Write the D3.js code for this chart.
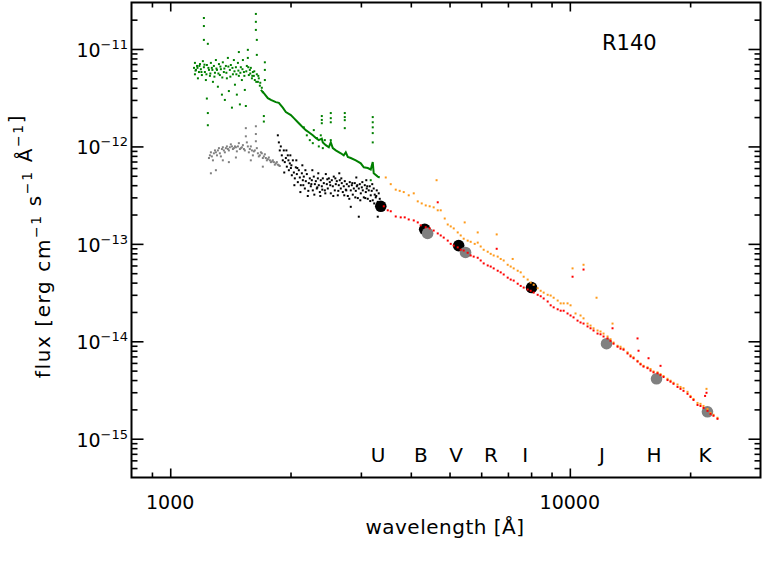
<!DOCTYPE html>
<html>
<head>
<meta charset="utf-8">
<script src="https://cdn.jsdelivr.net/npm/d3@7"></script>
<style>
  body { margin: 0; background: #fff; }
  svg { display: block; font-family: "DejaVu Sans", sans-serif; }
</style>
</head>
<body>
<script>
// axis ranges
const xDomain = [800, 30000];
const yDomain = [4e-16, 3e-11];
const xTickLabels = [1000, 10000];
const yTickExps = [-15, -14, -13, -12, -11];

// photometric bands
const bandNames = ["U", "B", "V", "R", "I", "J", "H", "K"];
const bandWaves = [3310, 4240, 5190, 6350, 7730, 12040, 16250, 21800];

// far-UV spectrum (green), noisy part
const greenFUV = [
  [1147,6.4e-12],[1153,7.2e-12],[1153,5.5e-12],[1160,6.1e-12],[1167,6.7e-12],[1173,5.0e-12],[1180,5.8e-12],
  [1187,7.0e-12],[1193,6.2e-12],[1200,5.4e-12],[1207,7.5e-12],[1214,6.5e-12],[1214,2.08e-11],[1214,1.72e-11],
  [1214,1.24e-11],[1221,5.8e-12],[1228,4.8e-12],[1235,6.85e-12],[1235,3.1e-12],[1242,1.13e-11],[1242,2.2e-12],
  [1242,1.65e-12],[1250,6.1e-12],[1257,5.3e-12],[1264,7.2e-12],[1271,6.4e-12],[1279,4.6e-12],[1286,6.7e-12],
  [1294,5.7e-12],[1301,7.7e-12],[1309,6.1e-12],[1316,4.1e-12],[1324,7.0e-12],[1331,5.4e-12],[1339,6.2e-12],
  [1347,3.4e-12],[1354,7.3e-12],[1362,5.8e-12],[1370,3.0e-12],[1378,6.7e-12],[1386,5.0e-12],[1394,8.1e-12],
  [1402,3.7e-12],[1410,6.1e-12],[1418,6.85e-12],[1427,2.5e-12],[1435,5.5e-12],[1443,7.7e-12],[1452,4.3e-12],
  [1460,6.5e-12],[1468,3.4e-12],[1477,7.2e-12],[1485,9.3e-12],[1485,5.3e-12],[1494,2.7e-12],[1502,6.5e-12],
  [1511,4.8e-12],[1520,7.7e-12],[1529,5.8e-12],[1537,3.8e-12],[1546,2.6e-12],[1555,6.7e-12],[1564,9.8e-12],
  [1564,8.1e-12],[1573,5.4e-12],[1582,6.1e-12],[1591,6.4e-12],[1601,5.0e-12],[1610,5.8e-12],[1619,5.3e-12],
  [1628,4.8e-12],[1638,2.29e-11],[1638,1.9e-11],[1638,1.57e-11],[1647,1.24e-11],[1647,8.7e-12],[1647,5.5e-12],
  [1657,4.6e-12],[1666,5.0e-12],[1676,4.2e-12],[1715,2.05e-12],[1715,1.8e-12],[1725,7.3e-12],[1725,6.1e-12],
  [1725,4.8e-12],[1705,3.6e-12],
  [1157,6.0e-12],[1170,6.4e-12],[1183,6.7e-12],[1197,5.8e-12],[1218,6.9e-12],[1232,5.5e-12],[1246,6.4e-12],
  [1260,5.6e-12],[1275,6.1e-12],[1290,5.2e-12],[1305,6.3e-12],[1320,5.6e-12],[1335,6.6e-12],[1350,5.1e-12],
  [1366,6.3e-12],[1382,5.7e-12],[1398,6.6e-12],[1414,5.2e-12],[1431,6.4e-12],[1448,5.9e-12],[1464,5.5e-12],
  [1481,6.0e-12],[1498,5.7e-12],[1516,6.2e-12],[1533,5.3e-12],[1550,5.9e-12],[1568,6.5e-12],[1586,5.6e-12],
  [1605,5.3e-12],[1623,5.9e-12],[1642,4.6e-12],[1661,5.3e-12],[1680,4.5e-12],[1695,4.0e-12]
];

// near-UV spectrum (green), continuum
const greenNUV = [
  [1686,3.8e-12],[1715,3.52e-12],[1755,3.13e-12],[1786,3.0e-12],[1838,2.85e-12],[1870,2.8e-12],[1913,2.5e-12],
  [1947,2.25e-12],[2004,2.1e-12],[2039,1.95e-12],[2086,1.77e-12],[2122,1.65e-12],[2147,1.57e-12],[2184,1.47e-12],
  [2222,1.4e-12],[2274,1.3e-12],[2314,1.22e-12],[2354,1.16e-12],[2395,1.2e-12],[2409,1.1e-12],[2451,1.03e-12],
  [2494,9.8e-13],[2522,1.1e-12],[2552,9.6e-13],[2596,9.1e-13],[2672,8.5e-13],[2718,8.1e-13],[2750,8.7e-13],
  [2782,7.8e-13],[2830,7.6e-13],[2913,7.2e-13],[2964,6.9e-13],[2998,6.7e-13],[3051,6.1e-13],[3121,6.0e-13],
  [3175,5.8e-13],[3212,6.9e-13],[3230,5.3e-13],[3306,4.9e-13],[3344,4.8e-13]
];

// near-UV emission spikes and scatter (green)
const greenSpikes = [
  [2395,2.05e-12],[2395,1.87e-12],[2395,1.73e-12],[2522,2.2e-12],[2522,1.95e-12],[2522,1.77e-12],[2522,1.16e-12],
  [2734,2.2e-12],[2734,2.0e-12],[2734,1.86e-12],[2734,1.54e-12],[3212,2.0e-12],[3212,1.77e-12],[3212,1.57e-12],
  [3212,1.37e-12],[3212,1.1e-12],[2159,1.57e-12],[2197,1.3e-12],[2235,1.16e-12],[2274,1.08e-12],[2327,1.22e-12],
  [2354,1.0e-12],[2409,9.6e-13],[2437,1.16e-12],[2287,1.47e-12],[2381,1.3e-12],[3175,4.5e-13]
];

// far-UV spectrum (gray)
const grayFUV = [
  [1250,7.6e-13],[1264,8.7e-13],[1279,7.2e-13],[1294,9.1e-13],[1309,8.1e-13],[1324,9.6e-13],[1339,7.9e-13],
  [1354,9.8e-13],[1370,8.7e-13],[1386,1.0e-12],[1402,9.1e-13],[1418,1.05e-12],[1435,9.4e-13],[1452,1.0e-12],
  [1468,8.9e-13],[1485,1.08e-12],[1502,9.6e-13],[1520,1.03e-12],[1537,9.1e-13],[1546,1.54e-12],[1546,1.27e-12],
  [1555,1.1e-12],[1573,8.7e-13],[1591,1.0e-12],[1610,8.1e-13],[1628,9.1e-13],[1638,1.61e-12],[1638,1.34e-12],
  [1638,1.13e-12],[1647,9.6e-13],[1666,7.9e-13],[1686,8.7e-13],[1705,7.6e-13],[1725,8.3e-13],[1745,7.2e-13],
  [1765,7.7e-13],[1786,6.9e-13],[1806,7.2e-13],[1827,6.5e-13],[1848,6.9e-13],[1870,6.4e-13],
  [1264,5.3e-13],[1301,5.7e-13],[1354,7.2e-13],[1402,6.9e-13],[1460,7.7e-13],[1705,6.2e-13],[1591,7.2e-13],
  [1257,8.1e-13],[1271,7.9e-13],[1286,8.5e-13],[1301,8.7e-13],[1316,9.1e-13],[1331,8.5e-13],[1347,9.4e-13],
  [1362,9.1e-13],[1378,9.6e-13],[1394,9.4e-13],[1410,9.8e-13],[1427,1.0e-12],[1443,9.6e-13],[1460,9.8e-13],
  [1477,1.0e-12],[1494,9.4e-13],[1511,9.8e-13],[1529,9.4e-13],[1564,1.0e-12],[1582,9.4e-13],[1601,9.1e-13],
  [1619,8.9e-13],[1657,8.5e-13],[1676,8.1e-13],[1695,8.5e-13],[1715,7.9e-13],[1735,7.6e-13],[1755,7.4e-13],
  [1776,7.2e-13],[1796,7.0e-13],[1817,6.9e-13],[1838,6.7e-13],[1859,6.5e-13],[1880,6.3e-13]
];

// near-UV spectrum (black)
const blackNUV = [
  [1859,1.3e-12],[1870,1.1e-12],[1880,9.1e-13],[1891,1.0e-12],[1902,8.1e-13],[1913,7.2e-13],[1924,9.1e-13],
  [1935,6.9e-13],[1947,7.6e-13],[1958,6.2e-13],[1969,8.1e-13],[1981,5.7e-13],[1992,6.7e-13],[2004,6.0e-13],
  [2015,5.06e-13],[2027,7.2e-13],[2039,5.4e-13],[2050,4.7e-13],[2062,6.1e-13],[2074,5.2e-13],[2086,4.3e-13],
  [2098,5.7e-13],[2110,4.8e-13],[2122,4.0e-13],[2135,5.3e-13],[2147,4.5e-13],[2159,4.9e-13],[2172,3.7e-13],
  [2184,4.4e-13],[2197,5.2e-13],[2209,3.1e-13],[2222,4.2e-13],[2235,4.7e-13],[2248,3.9e-13],[2261,4.5e-13],
  [2274,3.54e-13],[2287,4.9e-13],[2301,4.1e-13],[2314,4.4e-13],[2327,3.7e-13],[2341,4.7e-13],[2354,4.0e-13],
  [2368,3.4e-13],[2381,4.5e-13],[2395,3.9e-13],[2409,4.7e-13],[2423,4.2e-13],[2437,3.54e-13],[2451,5.2e-13],
  [2465,4.1e-13],[2479,3.7e-13],[2494,4.7e-13],[2508,4.3e-13],[2522,3.3e-13],[2537,4.5e-13],[2552,3.9e-13],
  [2566,4.9e-13],[2581,3.54e-13],[2596,4.1e-13],[2611,4.4e-13],[2626,3.15e-13],[2641,4.0e-13],[2656,4.5e-13],
  [2672,3.7e-13],[2687,4.2e-13],[2703,3.4e-13],[2718,3.9e-13],[2734,4.4e-13],[2750,3.6e-13],[2766,4.1e-13],
  [2782,3.1e-13],[2798,3.9e-13],[2814,4.3e-13],[2830,3.54e-13],[2830,2.4e-13],[2847,4.0e-13],[2863,3.2e-13],
  [2880,3.7e-13],[2896,4.2e-13],[2913,3.5e-13],[2930,3.9e-13],[2947,2.95e-13],[2964,3.7e-13],[2964,1.9e-13],
  [2981,4.1e-13],[2998,3.3e-13],[3016,3.8e-13],[3033,3.54e-13],[3051,3.0e-13],[3068,4.0e-13],[3086,3.4e-13],
  [3103,3.7e-13],[3121,2.9e-13],[3139,3.54e-13],[3157,3.9e-13],[3175,3.15e-13],[3193,3.5e-13],[3212,2.8e-13],
  [3230,3.7e-13],[3249,3.2e-13],[3268,3.0e-13],[3287,3.54e-13],[3306,1.9e-13],[3306,2.7e-13],[3325,3.3e-13],
  [3344,2.9e-13],
  [1929,5.4e-13],[1953,9.1e-13],[1976,7.2e-13],[2010,6.4e-13],[2045,4.0e-13],[2080,6.0e-13],[2117,3.4e-13],
  [2153,4.0e-13],[2179,5.7e-13],[2216,3.5e-13],[2255,4.1e-13],[2294,3.2e-13],[2334,3.8e-13],[2375,3.1e-13],
  [2402,3.6e-13],[2444,3.3e-13],[2472,4.6e-13],[2515,4.0e-13],[2559,3.1e-13],[2589,4.7e-13],[2634,3.5e-13],
  [2680,4.7e-13],[2726,3.15e-13],[2758,3.54e-13],[2806,2.9e-13],[2855,4.2e-13],[2905,3.0e-13],[2939,4.0e-13],
  [2990,2.8e-13],[3025,4.3e-13],[3077,2.95e-13],[3112,3.9e-13],[3166,2.75e-13],[3203,4.1e-13],[3240,2.6e-13],
  [3278,3.1e-13],[2268,5.7e-13],[2347,5.3e-13],[2649,5.3e-13],[2922,4.8e-13],[3095,4.5e-13],[1998,8.1e-13],
  [2068,7.2e-13],[2141,6.4e-13]
];

// optical / near-IR spectrum (orange)
const orangeSpec = [
  [3462,4.8e-13],[3563,4.1e-13],[3667,3.6e-13],[3752,3.5e-13],[3840,3.4e-13],[3952,3.15e-13],[4068,3.3e-13],
  [4163,2.73e-13],[4259,2.6e-13],[4359,2.48e-13],[4459,2.43e-13],[4563,2.37e-13],[4671,2.21e-13],[4752,2.21e-13],
  [4863,1.82e-13],[4948,1.58e-13],[5034,1.51e-13],[5122,1.44e-13],[5241,1.31e-13],[5332,1.22e-13],[5425,1.13e-13],
  [5551,1.08e-13],[5648,1.05e-13],[5780,1.0e-13],[5881,1.03e-13],[5983,9.4e-14],[6087,8.7e-14],[6230,8.3e-14],
  [6338,7.9e-14],[6448,7.6e-14],[6599,7.4e-14],[6714,7.0e-14],[6831,6.75e-14],[6990,6.1e-14],[7112,5.85e-14],
  [7236,5.6e-14],[7405,5.3e-14],[7534,5.1e-14],[7665,4.6e-14],[7843,4.3e-14],[7980,4.0e-14],[8119,3.8e-14],
  [8308,3.5e-14],[8453,3.3e-14],[8600,3.16e-14],[8801,3.0e-14],[8954,2.95e-14],[9110,2.8e-14],[9323,2.62e-14],
  [9485,2.45e-14],[9650,2.45e-14],[9869,2.45e-14],[10041,2.34e-14],[10334,1.93e-14],[10636,1.84e-14],
  [10821,1.72e-14],[11074,1.52e-14],[11267,1.45e-14],[11463,1.36e-14],[11731,1.29e-14],[11935,1.26e-14],
  [12143,1.2e-14],[12427,1.12e-14],[12643,1.05e-14],[12863,9.7e-15],[13164,9.0e-15],[13393,8.8e-15],
  [13626,8.4e-15],[13944,7.7e-15],[14187,7.2e-15],[14434,6.85e-15],[14771,6.3e-15],[15028,5.9e-15],
  [15289,5.6e-15],[15647,5.4e-15],[15919,5.2e-15],[16196,4.9e-15],[16575,4.8e-15],[16863,4.6e-15],
  [17157,4.4e-15],[17558,4.12e-15],[17863,3.94e-15],[18174,3.75e-15],[18598,3.6e-15],[18922,3.4e-15],
  [19251,3.3e-15],[19701,3.03e-15],[20044,2.75e-15],[20393,2.56e-15],[20869,2.33e-15],[21232,2.28e-15],
  [21602,2.17e-15],[22106,2.02e-15],[22491,1.84e-15],[22883,1.76e-15],[23415,1.64e-15],
  [4640,4.5e-13],[5456,1.66e-13],[5881,1.31e-13],[6561,1.25e-13],[7194,7.0e-14],[10158,5.6e-14],
  [10821,6.1e-14],[11663,2.8e-14],[12789,1.52e-14],[21977,3.25e-15]
];

// optical / near-IR spectrum (red)
const redSpec = [
  [3423,2.43e-13],[3502,2.21e-13],[3563,2.16e-13],[3667,1.91e-13],[3774,1.87e-13],[3862,1.87e-13],[3952,1.78e-13],
  [4068,1.74e-13],[4163,1.66e-13],[4235,1.55e-13],[4359,1.48e-13],[4459,1.44e-13],[4563,1.37e-13],[4671,1.28e-13],
  [4752,1.22e-13],[4835,1.16e-13],[4948,1.08e-13],[5034,1.0e-13],[5122,9.6e-14],[5241,9.2e-14],[5332,8.7e-14],
  [5425,8.55e-14],[5551,8.1e-14],[5648,7.6e-14],[5746,7.4e-14],[5881,7.2e-14],[5983,6.75e-14],[6087,6.3e-14],
  [6230,6.0e-14],[6338,5.85e-14],[6448,5.6e-14],[6599,5.3e-14],[6714,5.1e-14],[6831,4.85e-14],[6990,4.5e-14],
  [7112,4.3e-14],[7236,4.2e-14],[7405,3.9e-14],[7534,3.7e-14],[7665,3.56e-14],[7843,3.4e-14],[7980,3.3e-14],
  [8119,3.16e-14],[8308,3.0e-14],[8453,2.9e-14],[8600,2.75e-14],[8801,2.56e-14],[8954,2.34e-14],[9110,2.23e-14],
  [9323,2.13e-14],[9485,2.06e-14],[9650,2.06e-14],[9869,1.93e-14],[10041,1.84e-14],[10216,1.76e-14],
  [10454,1.63e-14],[10636,1.56e-14],[10821,1.52e-14],[11074,1.42e-14],[11267,1.36e-14],[11463,1.29e-14],
  [11731,1.2e-14],[11935,1.18e-14],[12143,1.12e-14],[12427,1.07e-14],[12643,1.01e-14],[12863,9.45e-15],
  [13164,8.8e-15],[13393,8.4e-15],[13626,8.2e-15],[13944,7.5e-15],[14187,7.0e-15],[14434,6.7e-15],
  [14771,6.2e-15],[15028,5.8e-15],[15289,5.5e-15],[15647,5.3e-15],[15919,5.0e-15],[16196,4.8e-15],
  [16575,4.7e-15],[16863,4.5e-15],[17157,4.3e-15],[17558,4.0e-15],[17863,3.85e-15],[18174,3.66e-15],
  [18598,3.4e-15],[18922,3.25e-15],[19251,3.1e-15],[19701,2.89e-15],[20044,2.68e-15],[20393,2.5e-15],
  [20869,2.22e-15],[21232,2.17e-15],[21602,2.07e-15],[22106,1.93e-15],[22491,1.8e-15],[22883,1.72e-15],
  [23415,1.6e-15],
  [4671,2.67e-13],[6561,8.9e-14],[10158,4.6e-14],[10821,5.45e-14],[14771,1.07e-14],[14856,8.0e-15],
  [15738,6.7e-15],[16863,5.6e-15],[21977,2.96e-15],[12789,1.36e-14],[21800,2.75e-15]
];

// photometry
const photBlack = [[3364,2.43e-13],[4333,1.41e-13],[5270,9.6e-14],[8020,3.56e-14]];
const photGray = [[4406,1.28e-13],[5483,8.16e-14],[12354,9.45e-15],[16477,4.12e-15],[22099,1.89e-15]];

class Chart {
    constructor(width = 763, height = 561) {
        this.svg = d3.select("body").append("svg").attr("width", width).attr("height", height);
        this.left = 131.5;
        this.right = 760.5;
        this.top = 2.5;
        this.bottom = 477.5;
        this.x = d3.scaleLog().domain(xDomain).range([this.left, this.right]);
        this.y = d3.scaleLog().domain(yDomain).range([this.bottom, this.top]);
    }

    isDecade(v) {
        const l = Math.log10(v);
        return Math.abs(l - Math.round(l)) < 1e-6;
    }

    drawTicks() {
        const xt = this.x.ticks().filter(v => v > xDomain[0] && v < xDomain[1]);
        const yt = this.y.ticks().filter(v => v > yDomain[0] && v < yDomain[1]);
        const xMaj = xt.filter(v => this.isDecade(v)), xMin = xt.filter(v => !this.isDecade(v));
        const yMaj = yt.filter(v => this.isDecade(v)), yMin = yt.filter(v => !this.isDecade(v));

        const axes = [
            [d3.axisBottom(this.x), `translate(0,${this.bottom})`, xMaj, xMin, 9, 5],
            [d3.axisTop(this.x), `translate(0,${this.top})`, xMaj, xMin, 9, 5],
            [d3.axisLeft(this.y), `translate(${this.left},0)`, yMaj, yMin, 12, 6],
            [d3.axisRight(this.y), `translate(${this.right},0)`, yMaj, yMin, 12, 6],
        ];
        axes.forEach(([ax, tr, maj, min, lMaj, lMin]) => {
            [[maj, lMaj], [min, lMin]].forEach(([vals, len]) => {
                const g = this.svg.append("g").attr("transform", tr)
                    .call(ax.tickValues(vals).tickSize(-len).tickFormat(""));
                g.select(".domain").remove();
                g.selectAll("line").attr("stroke", "#000").attr("stroke-width", 1.6);
            });
        });

        // frame
        this.svg.append("rect")
            .attr("x", this.left).attr("y", this.top)
            .attr("width", this.right - this.left).attr("height", this.bottom - this.top)
            .attr("fill", "none").attr("stroke", "#000").attr("stroke-width", 2);
    }

    drawLabels() {
        // y tick labels 10^n
        yTickExps.forEach(e => {
            const t = this.svg.append("text")
                .attr("x", 128).attr("y", this.y(Math.pow(10, e)) + 8)
                .attr("text-anchor", "end").attr("font-size", 19);
            t.append("tspan").text("10");
            t.append("tspan").attr("dy", -8).attr("font-size", 13).text("\u2212" + Math.abs(e));
        });

        // x tick labels
        this.svg.selectAll(".xlab").data(xTickLabels).join("text")
            .attr("x", d => this.x(d)).attr("y", 509)
            .attr("text-anchor", "middle").attr("font-size", 19)
            .text(d => d);

        // axis titles
        this.svg.append("text")
            .attr("x", 445).attr("y", 534)
            .attr("text-anchor", "middle").attr("font-size", 20)
            .attr("letter-spacing", 0.5)
            .text("wavelength [\u00c5]");

        const yl = this.svg.append("text")
            .attr("transform", "translate(50,246) rotate(-90)")
            .attr("text-anchor", "middle").attr("font-size", 20)
            .attr("letter-spacing", 1.6);
        const parts = [["flux [erg cm", false], ["\u22121", true], [" s", false], ["\u22121", true],
            [" \u00c5", false], ["\u22121", true], ["]", false]];
        parts.forEach(([s, sup]) => {
            yl.append("tspan").attr("dy", sup ? -9 : 0).attr("font-size", sup ? 14 : 20).text(s);
            if (sup) yl.append("tspan").attr("dy", 9).text("");
        });

        // star name
        this.svg.append("text").attr("x", 602).attr("y", 50).attr("font-size", 21).text("R140");

        // band names
        this.svg.selectAll(".band").data(bandNames).join("text")
            .attr("x", (d, i) => this.x(bandWaves[i])).attr("y", this.bottom - 16)
            .attr("text-anchor", "middle").attr("font-size", 20)
            .text(d => d);
    }

    dots(data, color, size = 2) {
        this.svg.append("g").attr("fill", color)
            .selectAll("rect").data(data).join("rect")
            .attr("x", d => this.x(d[0]) - size / 2)
            .attr("y", d => this.y(d[1]) - size / 2)
            .attr("width", size).attr("height", size);
    }

    circles(data, color, r) {
        this.svg.append("g").attr("fill", color)
            .selectAll("circle").data(data).join("circle")
            .attr("cx", d => this.x(d[0])).attr("cy", d => this.y(d[1])).attr("r", r);
    }

    drawData() {
        this.circles(photBlack, "#000", 5.8);
        this.circles(photGray, "#808080", 5.8);

        this.dots(grayFUV, "#808080");
        this.dots(blackNUV, "#000");
        this.dots(greenFUV, "#008000");
        this.dots(greenSpikes, "#008000");
        this.svg.append("path")
            .datum(greenNUV)
            .attr("d", d3.line().x(d => this.x(d[0])).y(d => this.y(d[1])))
            .attr("fill", "none").attr("stroke", "#008000").attr("stroke-width", 2);
        this.dots(orangeSpec, "#ff9a1a");
        this.dots(redSpec, "#ff0000");
    }
}

const chart = new Chart(763, 561);
chart.drawData();
chart.drawTicks();
chart.drawLabels();
</script>
</body>
</html>
